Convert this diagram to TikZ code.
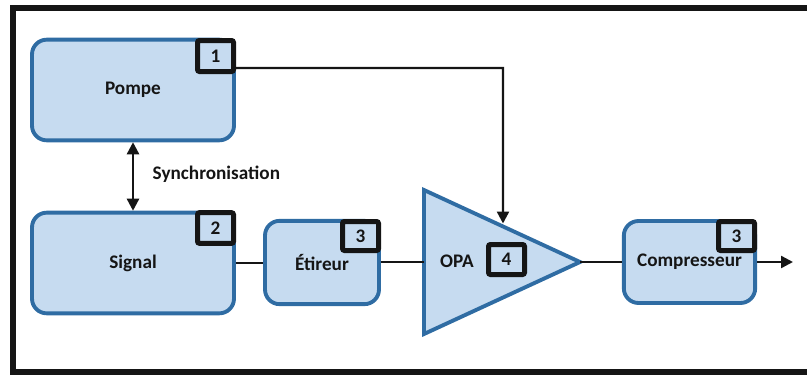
\documentclass[tikz,border=0pt]{standalone}
\usepackage{fontspec}
\setmainfont{Carlito}
\usetikzlibrary{arrows.meta}
\definecolor{boxfill}{HTML}{C6DBF0}
\definecolor{boxline}{HTML}{2F6CA3}
\definecolor{ink}{HTML}{151515}
\tikzset{
  lbl/.style={font=\fontsize{14.4}{17}\selectfont\bfseries, text=ink},
  block/.style={draw=boxline, fill=boxfill, line width=2.9pt, rounded corners=11pt, lbl, inner sep=0pt},
  badge/.style={draw=ink, fill=boxfill, line width=3.75pt, rounded corners=1.5pt, lbl, inner sep=0pt, outer sep=0pt, minimum width=27pt, minimum height=23pt},
  conn/.style={draw=ink, line width=1.8pt},
  tip/.style={-{Triangle[length=9pt,width=9pt]}},
  frame/.style={draw=ink, line width=4.5pt}
}
\begin{document}
\begin{tikzpicture}[x=0.75pt,y=-0.75pt]
\useasboundingbox (0,0) rectangle (807,375);
% frame
\draw[frame] (830,8) -- (12.5,8) -- (12.5,372) -- (830,372);
% blocks
\node[block, minimum width=151.5pt, minimum height=75.5pt] (pompe) at (133,90) {Pompe};
\node[block, minimum width=151.5pt, minimum height=75.5pt] (signal) at (133,263) {Signal};
\node[block, minimum width=85.5pt, minimum height=62.5pt] (etir) at (322,262.5) {Étireur};
\node[block, minimum width=98.5pt, minimum height=61.5pt] (comp) at (689.5,262) {\raisebox{-2pt}{Compresseur}};
% amplifier triangle
\coordinate (opaIn) at (424,262);
\coordinate (opaA) at (424,190);
\coordinate (opaB) at (424,334);
\coordinate (opaOut) at (580,262);
\coordinate (opaTop) at (503,223.5);
\draw[boxline, fill=boxfill, line width=2.9pt, line join=miter] (opaA) -- (opaOut) -- (opaB) -- cycle;
\node[lbl] (opa) at (457,261) {OPA};
% badges
\node[badge, minimum height=23.25pt] (b1) at (215.5,56) {1};
\node[badge] (b2) at (215.5,228) {2};
\node[badge, minimum height=21.75pt] (b3a) at (360.5,236) {3};
\node[badge, minimum height=22.5pt] (b4) at (506.5,259.5) {4};
\node[badge, minimum height=21.75pt] (b3b) at (736.5,236) {3};
% connectors
\coordinate (bend) at (503,68);
\coordinate (out) at (793,262);
\draw[conn, tip] ([yshift=2.6pt]b1.south east) -- (bend) -- (opaTop);
\draw[conn, {Triangle[length=9pt,width=9pt]}-{Triangle[length=9pt,width=9pt]}] (pompe.south) -- (signal.north);
\node[lbl, anchor=west] (sync) at (148,174.5) {Synchronisation};
\draw[conn] (signal.east) -- (signal.east -| etir.west);
\draw[conn] (etir.east |- opaIn) -- (opaIn);
\draw[conn] (opaOut) -- (opaOut -| comp.west);
\draw[conn, tip] (comp.east |- out) -- (out);
\end{tikzpicture}
\end{document}
